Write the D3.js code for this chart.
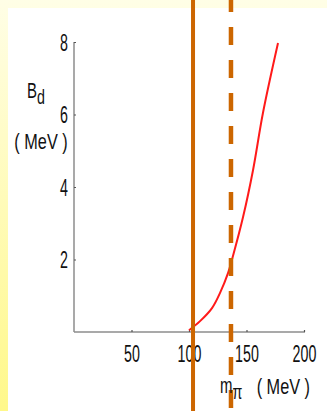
<!DOCTYPE html>
<html>
<head>
<meta charset="utf-8">
<script src="https://cdn.jsdelivr.net/npm/d3@7"></script>
<style>
  html, body { margin: 0; padding: 0; background: #fff; }
  svg { display: block; }
  text { font-family: "Liberation Sans", Arial, sans-serif; fill: #111; }
</style>
</head>
<body>
<div id="chart"></div>
<script>
// binding energy curve
const mpi = [100, 109.6, 120, 127, 134, 138, 147, 155.7, 164.3, 177.4];
const bd = [0.05, 0.3, 0.66, 1.08, 1.63, 2.07, 3.17, 4.47, 6.04, 7.97];
const xticks = [50, 100, 150, 200];
const yticks = [2, 4, 6, 8];
// vertical markers (solid, dashed)
const markers = [103.5, 136.5];

const width = 327;
const height = 411;
const orange = '#cc6600';

const svg = d3.select('#chart')
  .append('svg')
  .attr('width', width)
  .attr('height', height);

const grad = svg.append('defs').append('linearGradient')
  .attr('id', 'bg').attr('x1', 0).attr('y1', 0).attr('x2', 0).attr('y2', 1);
grad.append('stop').attr('offset', '0%').attr('stop-color', '#fffee6');
grad.append('stop').attr('offset', '100%').attr('stop-color', '#fff88a');

svg.append('rect').attr('width', width).attr('height', height).attr('fill', 'url(#bg)');
svg.append('rect').attr('x', 8).attr('y', 8).attr('width', width - 8).attr('height', height - 8).attr('fill', '#fff');

const x = d3.scaleLinear().domain([0, 200]).range([74, 304]);
const y = d3.scaleLinear().domain([0, 8]).range([332, 42]);

// axes
const axisColor = '#8c8c8c';
const xAxis = d3.axisBottom(x).tickValues(xticks).tickSize(-2);
const yAxis = d3.axisLeft(y).tickValues(yticks).tickSize(-2);

const gx = svg.append('g').attr('transform', 'translate(0,' + y(0) + ')').call(xAxis);
const gy = svg.append('g').attr('transform', 'translate(' + x(0) + ',0)').call(yAxis);

[gx, gy].forEach((g) => {
  g.select('.domain').attr('stroke', axisColor).attr('stroke-width', 1.5);
  g.selectAll('.tick line').attr('stroke', '#555').attr('stroke-width', 1.2);
  g.selectAll('.tick text')
    .attr('fill', '#111')
    .style('font-family', '"Liberation Sans", Arial, sans-serif')
    .style('font-size', '23px');
});
gx.select('.domain').attr('d', 'M' + x(0) + ',0H' + (x(200) + 1));
gy.select('.domain').attr('d', 'M0,' + y(8) + 'V' + y(0));

gx.selectAll('.tick text')
  .attr('y', 0).attr('dy', null)
  .attr('transform', 'translate(0,30) scale(0.62,1)');
gy.selectAll('.tick text')
  .attr('x', 0).attr('dy', null)
  .attr('transform', 'translate(-6,8) scale(0.62,1)');

// curve
const line = d3.line()
  .x((d, i) => x(mpi[i]))
  .y((d) => y(d))
  .curve(d3.curveCatmullRom.alpha(0.5));

svg.append('path')
  .datum(bd)
  .attr('d', line)
  .attr('fill', 'none')
  .attr('stroke', '#ff1a1a')
  .attr('stroke-width', 2);

// markers
svg.selectAll('.marker')
  .data(markers)
  .enter().append('line')
  .attr('class', 'marker')
  .attr('x1', (d) => x(d)).attr('x2', (d) => x(d))
  .attr('y1', 0).attr('y2', height)
  .attr('stroke', orange)
  .attr('stroke-width', (d, i) => i === 0 ? 4 : 4.5)
  .attr('stroke-dasharray', (d, i) => i === 0 ? null : '18 15')
  .attr('stroke-dashoffset', 6);

// axis labels
function label(tx, ty, sx, fn) {
  const g = svg.append('g').attr('transform', 'translate(' + tx + ',' + ty + ') scale(' + sx + ',1)');
  const t = g.append('text');
  fn(t);
  return t;
}

label(27, 98, 0.68, (t) => {
  t.style('font-size', '22px');
  t.append('tspan').text('B');
  t.append('tspan').attr('dy', 6).style('font-size', '21px').text('d');
});
label(41, 149, 0.74, (t) => {
  t.attr('text-anchor', 'middle').style('font-size', '22px').text('( MeV )');
});
label(220, 393, 0.68, (t) => {
  t.style('font-size', '22px');
  t.append('tspan').text('m');
  t.append('tspan').attr('dy', 6).style('font-size', '21px').text('π');
});
label(310, 394, 0.74, (t) => {
  t.attr('text-anchor', 'end').style('font-size', '22px').text('( MeV )');
});
</script>
</body>
</html>
